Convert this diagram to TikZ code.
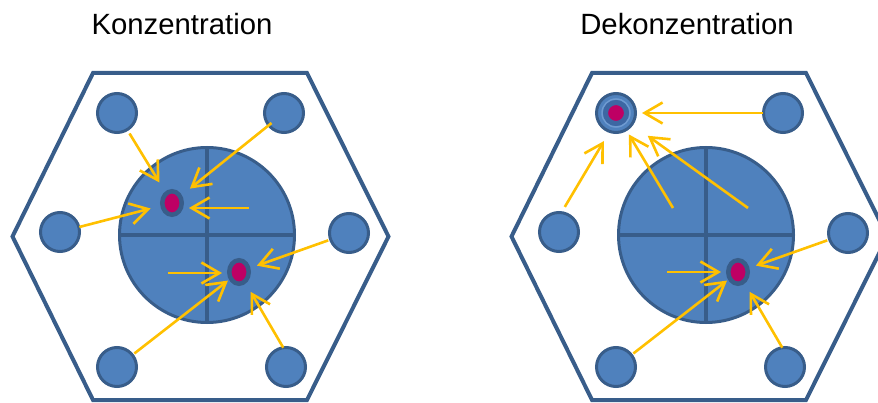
\documentclass[tikz,border=0pt]{standalone}
\usepackage{fontspec}
\setmainfont{Liberation Sans}
\usetikzlibrary{arrows.meta,shapes.geometric}

\definecolor{cellblue}{HTML}{4F81BD}
\definecolor{cellrim}{HTML}{385D8A}
\definecolor{flowgold}{HTML}{FFC000}
\definecolor{coremag}{HTML}{BE0064}
\definecolor{ringlight}{HTML}{6F9BD1}
\definecolor{ringdark}{HTML}{3D67A3}

\tikzset{
  wall/.style={draw=cellrim, line width=4pt, line join=miter},
  hub/.style={circle, draw=cellrim, fill=cellblue, line width=3pt,
    minimum size=175pt, inner sep=0pt, outer sep=0pt},
  rim/.style={draw=cellrim, line width=3.2pt},
  sat/.style={circle, draw=cellrim, fill=cellblue, line width=3pt,
    minimum size=39pt, inner sep=0pt, outer sep=0pt},
  spot/.style={ellipse, draw=cellrim, fill=coremag, line width=4.5pt,
    minimum width=19.5pt, minimum height=23.5pt, inner sep=0pt, outer sep=0pt},
  halo/.style={circle, draw=ringlight, line width=1.5pt,
    minimum size=28pt, inner sep=0pt, outer sep=0pt},
  seed/.style={circle, draw=ringdark, fill=coremag, line width=5pt,
    minimum size=21pt, inner sep=0pt, outer sep=0pt},
  flow/.style={draw=flowgold, line width=2.6pt,
    -{Straight Barb[length=18pt,width=21pt]}},
  title/.style={font=\fontsize{29.3}{35}\selectfont, anchor=base, inner sep=0pt},
}

% hexagon, central disc with cross and the six outer circles of one panel
\newcommand\panelbase{%
  \draw[wall] (93,73) -- (307,73) -- (388.5,236.5) -- (307,400)
    -- (93,400) -- (12.5,236.5) -- cycle;
  \node[hub] (hub) at (207,235) {};
  \draw[rim] (hub.north) -- (hub.south) (hub.west) -- (hub.east);
  \node[sat] (sTL) at (117,113) {};
  \node[sat] (sTR) at (284,113) {};
  \node[sat] (sL)  at (60,232) {};
  \node[sat] (sR)  at (349,233) {};
  \node[sat] (sBL) at (117,367) {};
  \node[sat] (sBR) at (286,367) {};
}

\begin{document}
\begin{tikzpicture}[x=1pt, y=-1pt]
  \useasboundingbox (0,0) rectangle (878,403);

  \node[title] (t1) at (182,34.3) {Konzentration};
  \node[title] (t2) at (687,34.3) {Dekonzentration};

  % left panel: gathering towards two spots in the disc
  \begin{scope}[name prefix=L-]
    \panelbase
    \node[spot] (d1) at (172,203) {};
    \node[spot] (d2) at (239,272) {};
    \coordinate (h1) at (249,208);
    \coordinate (h2) at (168,273);
    \draw[flow, shorten <=24pt, shorten >=24pt] (sTL.center) -- (d1.center);
    \draw[flow, shorten <=16pt, shorten >=23pt] (sTR.center) -- (d1.center);
    \draw[flow, shorten >=17pt] (h1) -- (h1 -| d1.center);
    \draw[flow, shorten <=20pt, shorten >=22pt] (sL.center) -- (d1.center);
    \draw[flow, shorten >=17pt] (h2) -- (h2 -| d2.center);
    \draw[flow, shorten <=22pt, shorten >=14pt] (sBL.center) -- (d2.center);
    \draw[flow, shorten <=22pt, shorten >=19pt] (sR.center) -- (d2.center);
    \draw[flow, shorten >=23pt] (sBR.98) -- (d2.center);
  \end{scope}

  % right panel: flow moving out to the upper left circle
  \begin{scope}[name prefix=R-, xshift=499pt]
    \panelbase
    \node[halo] (ring) at (sTL) {};
    \node[seed] (t) at (sTL) {};
    \node[spot] (d2) at (239,272) {};
    \coordinate (u1) at (174,208);
    \coordinate (u2) at (249,208);
    \coordinate (h2) at (168,272);
    \draw[flow, shorten <=20pt, shorten >=26pt] (sTR.center) -- (sTL.center);
    \draw[flow, shorten <=6.7pt, shorten >=11.2pt] (sL.83) -- (sTL.-109);
    \draw[flow, shorten >=25pt] (u1) -- (sTL.center);
    \draw[flow, shorten >=39pt] (u2) -- (sTL.center);
    \draw[flow, shorten >=17pt] (h2) -- (h2 -| d2.center);
    \draw[flow, shorten <=22pt, shorten >=14pt] (sBL.center) -- (d2.center);
    \draw[flow, shorten <=22pt, shorten >=19pt] (sR.center) -- (d2.center);
    \draw[flow, shorten >=23pt] (sBR.98) -- (d2.center);
  \end{scope}
\end{tikzpicture}
\end{document}
